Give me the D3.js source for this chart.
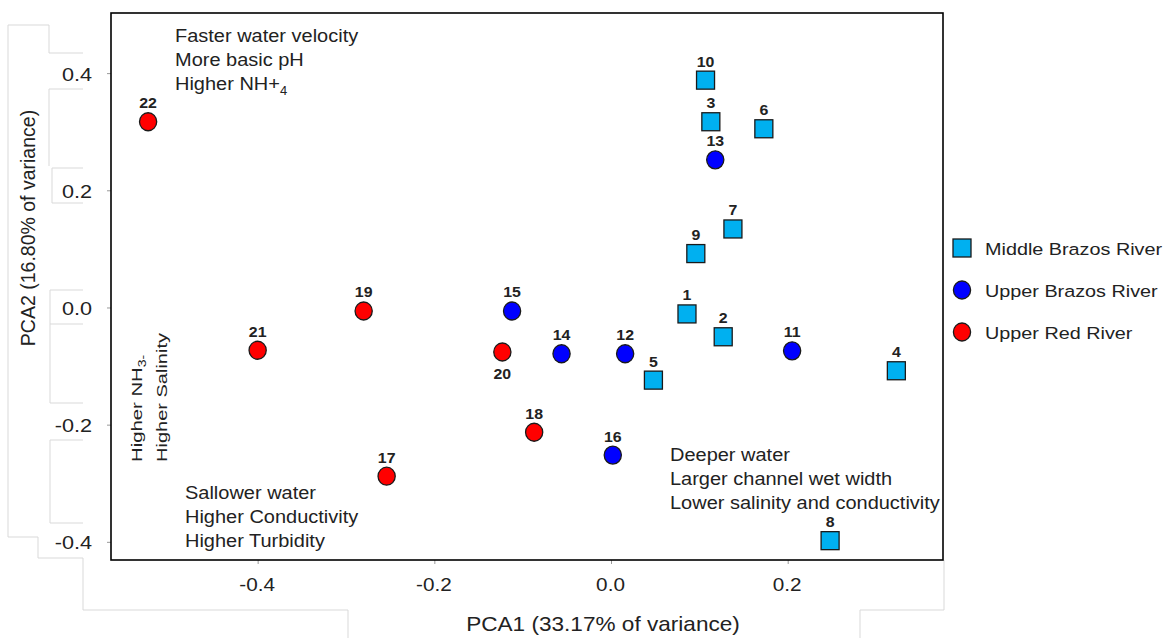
<!DOCTYPE html>
<html>
<head>
<meta charset="utf-8">
<script src="https://cdn.jsdelivr.net/npm/d3@7"></script>
<style>
  html, body { margin: 0; padding: 0; background: #fff; }
  svg { display: block; font-family: "Liberation Sans", Arial, sans-serif; }
</style>
</head>
<body>
<svg id="chart" width="1166" height="638"></svg>
<script>
// Sampling sites and their scores on the first two principal components
const siteIds = [1, 2, 3, 4, 5, 6, 7, 8, 9, 10, 11, 12, 13, 14, 15, 16, 17, 18, 19, 20, 21, 22];
const siteRiver = [
  "Middle Brazos River", "Middle Brazos River", "Middle Brazos River", "Middle Brazos River",
  "Middle Brazos River", "Middle Brazos River", "Middle Brazos River", "Middle Brazos River",
  "Middle Brazos River", "Middle Brazos River",
  "Upper Brazos River", "Upper Brazos River", "Upper Brazos River", "Upper Brazos River",
  "Upper Brazos River", "Upper Brazos River",
  "Upper Red River", "Upper Red River", "Upper Red River", "Upper Red River",
  "Upper Red River", "Upper Red River"
];
const pca1 = [0.086, 0.127, 0.113, 0.323, 0.048, 0.173, 0.138, 0.248, 0.096, 0.107,
              0.205, 0.016, 0.118, -0.056, -0.112, 0.002,
              -0.254, -0.087, -0.280, -0.123, -0.400, -0.524];
const pca2 = [-0.011, -0.050, 0.317, -0.108, -0.124, 0.305, 0.134, -0.398, 0.092, 0.388,
              -0.074, -0.079, 0.252, -0.079, -0.006, -0.252,
              -0.288, -0.213, -0.006, -0.076, -0.073, 0.317];
const labelsBelow = [20];

// Legend categories
const rivers = ["Middle Brazos River", "Upper Brazos River", "Upper Red River"];

// Axis ticks
const xTicks = [-0.4, -0.2, 0.0, 0.2];
const yTicks = [-0.4, -0.2, 0.0, 0.2, 0.4];

// Interpretation notes for each quadrant
const notesTopLeft = ["Faster water velocity", "More basic pH"];
const notesBottomLeft = ["Sallower water", "Higher Conductivity", "Higher Turbidity"];
const notesBottomRight = ["Deeper water", "Larger channel wet width", "Lower salinity and conductivity"];

const sites = siteIds.map((id, i) => ({ id, river: siteRiver[i], x: pca1[i], y: pca2[i] }));

const svg = d3.select("#chart");
const plot = { left: 111, top: 13, right: 943, bottom: 560 };
const ink = "#222";

const x = d3.scaleLinear().domain([-0.566, 0.3758]).range([plot.left, plot.right]);
const y = d3.scaleLinear().domain([-0.431, 0.5026]).range([plot.bottom, plot.top]);

const style = {
  "Middle Brazos River": { shape: "square", fill: "#00b0f0" },
  "Upper Brazos River": { shape: "circle", fill: "#0000ff" },
  "Upper Red River": { shape: "circle", fill: "#ff0000" }
};

// tick labels with a plain hyphen for negatives
const fmt = v => d3.format(".1f")(v).replace("\u2212", "-");

// faint leftover box outlines around the axis labels
const faint = svg.append("g").attr("fill", "none").attr("stroke", "#d9d9d9").attr("stroke-width", 1);
[
  "M49,25 H8 V537 H38 V558 H83 V610 H348 V638",
  "M49,25 V53 H83",
  "M83,89 H49 V166",
  "M83,168 H52 V203 H83",
  "M83,290 H50 V324 H83",
  "M50,324 V403 H83",
  "M83,440 H50 V523 H83",
  "M944,560 V610 H860 V638"
].forEach(d => faint.append("path").attr("d", d));

// horizontally stretched text helper
function stretchedText(g, tx, ty, sx, txt) {
  return g.append("text")
    .attr("transform", `translate(${tx},${ty}) scale(${sx},1)`)
    .text(txt);
}

// axes
const xAxis = d3.axisBottom(x).tickValues(xTicks).tickSize(4).tickFormat(fmt);
const yAxis = d3.axisLeft(y).tickValues(yTicks).tickSize(4).tickFormat(fmt);

const gx = svg.append("g").attr("transform", `translate(0,${plot.bottom})`).call(xAxis);
gx.select(".domain").remove();
gx.selectAll(".tick line").attr("stroke", "#999");
gx.selectAll(".tick text").remove();
gx.selectAll(".tick").each(function(d) {
  stretchedText(d3.select(this), -1, 31, 1.12, fmt(d))
    .attr("text-anchor", "middle").attr("font-size", 18.5).attr("fill", ink);
});

const gy = svg.append("g").attr("transform", `translate(${plot.left},0)`).call(yAxis);
gy.select(".domain").remove();
gy.selectAll(".tick line").attr("stroke", "#999");
gy.selectAll(".tick text").remove();
gy.selectAll(".tick").each(function(d) {
  stretchedText(d3.select(this), -19, 7, 1.14, fmt(d))
    .attr("text-anchor", "end").attr("font-size", 19).attr("fill", ink);
});

// plot frame
svg.append("rect")
  .attr("x", plot.left).attr("y", plot.top)
  .attr("width", plot.right - plot.left).attr("height", plot.bottom - plot.top)
  .attr("fill", "none").attr("stroke", "#000").attr("stroke-width", 1.6);

// axis titles
stretchedText(svg, 603, 631, 1.13, "PCA1 (33.17% of variance)")
  .attr("text-anchor", "middle").attr("font-size", 20).attr("fill", ink);
svg.append("text")
  .attr("transform", "translate(35,228) rotate(-90)")
  .attr("text-anchor", "middle").attr("font-size", 19.5).attr("fill", ink)
  .text("PCA2 (16.80% of variance)");

// quadrant notes
const notes = svg.append("g").attr("font-size", 18.5).attr("fill", ink);
notesTopLeft.forEach((s, i) => stretchedText(notes, 175, 42 + i * 24, 1.08, s));
const nh4 = notes.append("text").attr("transform", `translate(175,90) scale(1.08,1)`);
nh4.append("tspan").text("Higher NH+");
nh4.append("tspan").attr("font-size", 12).attr("dy", 5).text("4");
notesBottomLeft.forEach((s, i) => stretchedText(notes, 185, 499 + i * 24, 1.08, s));
notesBottomRight.forEach((s, i) => stretchedText(notes, 670, 461 + i * 24, 1.08, s));

// vertical note on the left edge
const vnote = svg.append("g").attr("font-size", 14.5).attr("fill", ink);
const nh3 = vnote.append("text").attr("transform", "translate(142,462) rotate(-90) scale(1.4,1)");
nh3.append("tspan").text("Higher NH");
nh3.append("tspan").attr("font-size", 10).attr("dy", 4).text("3");
nh3.append("tspan").attr("font-size", 10).text("-");
vnote.append("text").attr("transform", "translate(167,462) rotate(-90) scale(1.38,1)").text("Higher Salinity");

// markers
const side = 18, r = 8.6;
function drawMarker(g, river, cx, cy) {
  const st = style[river];
  if (st.shape === "square") {
    g.append("rect").attr("x", cx - side / 2).attr("y", cy - side / 2)
      .attr("width", side).attr("height", side)
      .attr("fill", st.fill).attr("stroke", "#1a1a1a").attr("stroke-width", 1.3);
  } else {
    g.append("ellipse").attr("cx", cx).attr("cy", cy).attr("rx", r).attr("ry", r + 0.4)
      .attr("fill", st.fill).attr("stroke", "#1a1a1a").attr("stroke-width", 1.3);
  }
}

const marks = svg.append("g");
sites.forEach(s => drawMarker(marks, s.river, x(s.x), y(s.y)));

const labels = svg.append("g").attr("font-size", 15).attr("font-weight", "bold").attr("fill", ink);
sites.forEach(s => {
  const below = labelsBelow.includes(s.id);
  stretchedText(labels, x(s.x), y(s.y) + (below ? 27 : -13.5), 1.06, s.id)
    .attr("text-anchor", "middle");
});

// legend
const legend = svg.append("g");
rivers.forEach((rv, i) => {
  const cy = 248 + i * 42;
  drawMarker(legend, rv, 962, cy);
  stretchedText(legend, 985, cy + 7, 1.2, rv).attr("font-size", 16.5).attr("fill", ink);
});
</script>
</body>
</html>
